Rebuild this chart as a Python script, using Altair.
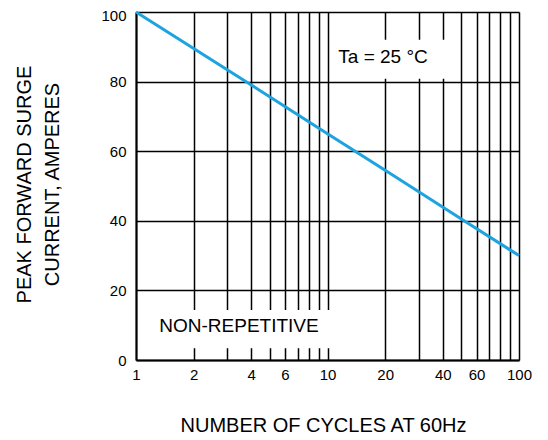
import altair as alt
import pandas as pd

# Curve
cycles = [1, 2, 4, 10, 20, 50, 100]
current = [100, 89.5, 79, 65, 54.5, 40.5, 30]

x_grid = [1, 2, 3, 4, 5, 6, 7, 8, 9, 10, 20, 30, 40, 50, 60, 70, 80, 90, 100]
x_labels = [1, 2, 4, 6, 10, 20, 40, 60, 100]
y_ticks = [0, 20, 40, 60, 80, 100]

df = pd.DataFrame({"cycles": cycles, "current": current})

FONT = "Liberation Sans"
label_list = "[" + ",".join(str(v) for v in x_labels) + "]"

xscale = alt.Scale(type="log", domain=[1, 100])
yscale = alt.Scale(domain=[0, 100])

line = alt.Chart(df).mark_line(color="#1ca3e0", strokeWidth=3).encode(
    x=alt.X(
        "cycles:Q",
        scale=xscale,
        axis=alt.Axis(
            values=x_grid,
            labelExpr=f"indexof({label_list}, datum.value) >= 0 ? toString(datum.value) : ''",
            ticks=False,
            grid=True,
            gridColor="black",
            gridWidth=1.5,
            gridOpacity=1,
            domainColor="black",
            domainWidth=2,
            labelFont=FONT,
            labelFontSize=15,
            labelColor="black",
            labelPadding=7,
            labelFlush=False,
            labelOverlap=False,
            title="NUMBER OF CYCLES AT 60Hz",
            titleFont=FONT,
            titleFontSize=20,
            titleFontWeight="normal",
            titleColor="black",
            titleX=187,
            titleY=71,
            titleAlign="center",
            titleBaseline="alphabetic",
        ),
    ),
    y=alt.Y(
        "current:Q",
        scale=yscale,
        axis=alt.Axis(
            values=y_ticks,
            ticks=False,
            grid=True,
            gridColor="black",
            gridWidth=1.5,
            gridOpacity=1,
            domainColor="black",
            domainWidth=2,
            labelFont=FONT,
            labelFontSize=15,
            labelColor="black",
            labelPadding=10,
            labelOffset=alt.condition("datum.value == 100", alt.value(3), alt.value(0)),
            title=["PEAK FORWARD SURGE", "CURRENT, AMPERES"],
            titleFont=FONT,
            titleFontSize=20,
            titleFontWeight="normal",
            titleColor="black",
            titleLineHeight=28,
            titleAngle=-90,
            titleX=-106,
            titleY=172,
            titleAlign="center",
            titleBaseline="alphabetic",
        ),
    ),
)

base = alt.Chart(pd.DataFrame({"a": [0]}))

box_ta = base.mark_rect(color="white").encode(
    x=alt.datum(12, scale=xscale), x2=alt.datum(46),
    y=alt.datum(80.8, scale=yscale), y2=alt.datum(92),
)
box_nr = base.mark_rect(color="white").encode(
    x=alt.datum(1.6, scale=xscale), x2=alt.datum(12),
    y=alt.datum(3.4, scale=yscale), y2=alt.datum(14.4),
)
text_ta = base.mark_text(font=FONT, fontSize=19, color="black", baseline="middle").encode(
    x=alt.datum(19.5, scale=xscale), y=alt.datum(87, scale=yscale), text=alt.value("Ta =  25 °C")
)
text_nr = base.mark_text(font=FONT, fontSize=19, color="black", baseline="middle").encode(
    x=alt.datum(3.45, scale=xscale), y=alt.datum(9.8, scale=yscale), text=alt.value("NON-REPETITIVE")
)

chart = alt.layer(line, box_ta, box_nr, text_ta, text_nr).properties(
    width=383,
    height=348,
    autosize=alt.AutoSizeParams(type="none"),
    padding={"left": 128, "top": 4, "right": 21, "bottom": 76},
    background="white",
).configure_view(stroke=None)

chart.save("out.html", embed_options={"renderer": "svg", "actions": False})
